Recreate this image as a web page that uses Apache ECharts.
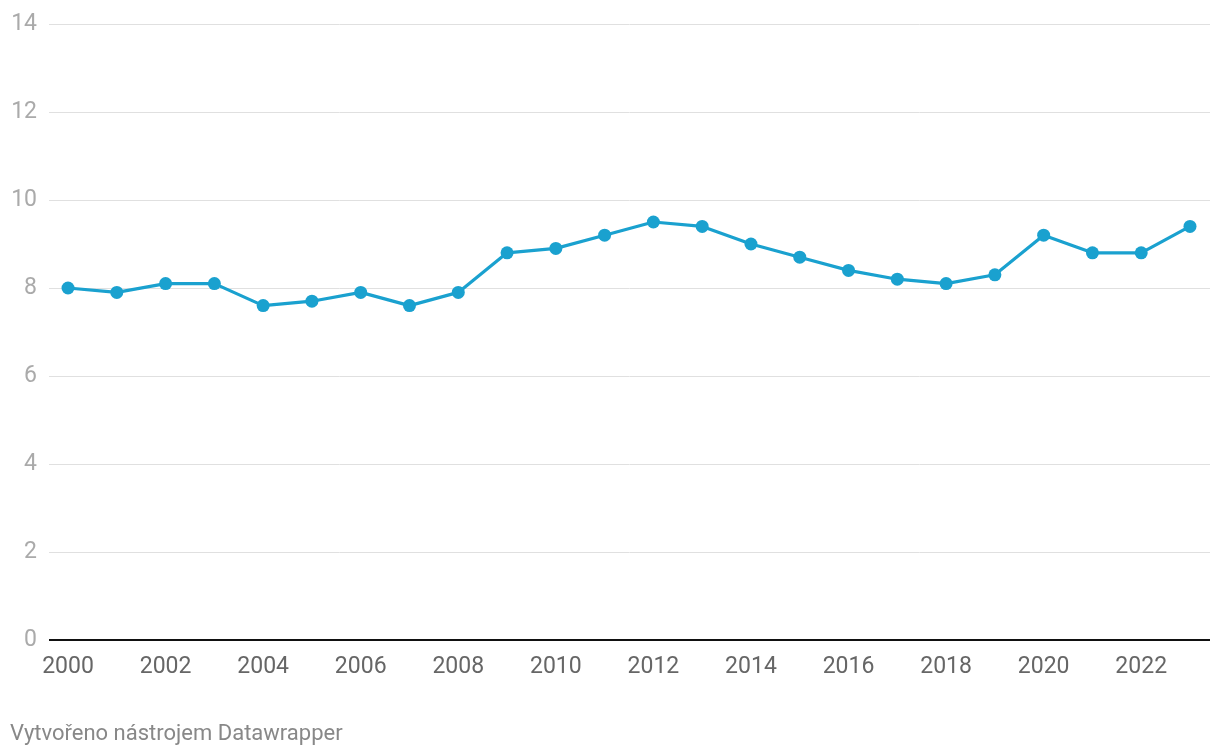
<!DOCTYPE html>
<html><head><meta charset="utf-8">
<script src="https://cdn.jsdelivr.net/npm/echarts@6/dist/echarts.min.js"></script>
<style>html,body{margin:0;padding:0;background:#fff}#c{width:1220px;height:756px}</style>
</head><body><div id="c"></div>
<script>
const years = [2000,2001,2002,2003,2004,2005,2006,2007,2008,2009,2010,2011,2012,2013,2014,2015,2016,2017,2018,2019,2020,2021,2022,2023];
const values = [8.0,7.9,8.1,8.1,7.6,7.7,7.9,7.6,7.9,8.8,8.9,9.2,9.5,9.4,9.0,8.7,8.4,8.2,8.1,8.3,9.2,8.8,8.8,9.4];
const xTickLabels = [2000,2002,2004,2006,2008,2010,2012,2014,2016,2018,2020,2022];
const yTicks = [0,2,4,6,8,10,12,14];
const footer = 'Vytvořeno nástrojem Datawrapper';

const chart = echarts.init(document.getElementById('c'), null, {renderer:'canvas'});
chart.setOption({
  animation:false,
  textStyle:{fontFamily:'Roboto'},
  grid:{left:49,right:10,top:24,bottom:116,containLabel:false},
  graphic:[{type:'text',left:10,top:723,style:{text:footer,fill:'#888',font:'22px Roboto'}}],
  xAxis:{type:'value',min:1999.61,max:2023.41,
    axisLine:{show:false},axisTick:{show:false},splitLine:{show:false},
    axisLabel:{customValues:xTickLabels,color:'#666',fontSize:23,margin:16,formatter:v=>String(v)}},
  yAxis:{type:'value',min:yTicks[0],max:yTicks[yTicks.length-1],interval:2,
    axisLine:{show:false},axisTick:{show:false},
    splitLine:{lineStyle:{color:'#e0e0e0',width:1}},
    axisLabel:{color:'#aaa',fontSize:23,margin:12}},
  series:[
    {type:'line',data:years.map((y,i)=>[y,values[i]]),
     lineStyle:{color:'#1aa1cf',width:3.2},itemStyle:{color:'#1aa1cf'},
     symbol:'circle',symbolSize:13,z:3},
    {type:'line',data:[[1999.61,0],[2023.41,0]],symbol:'none',silent:true,
     lineStyle:{color:'#111',width:2},z:2}
  ]
});
</script></body></html>
